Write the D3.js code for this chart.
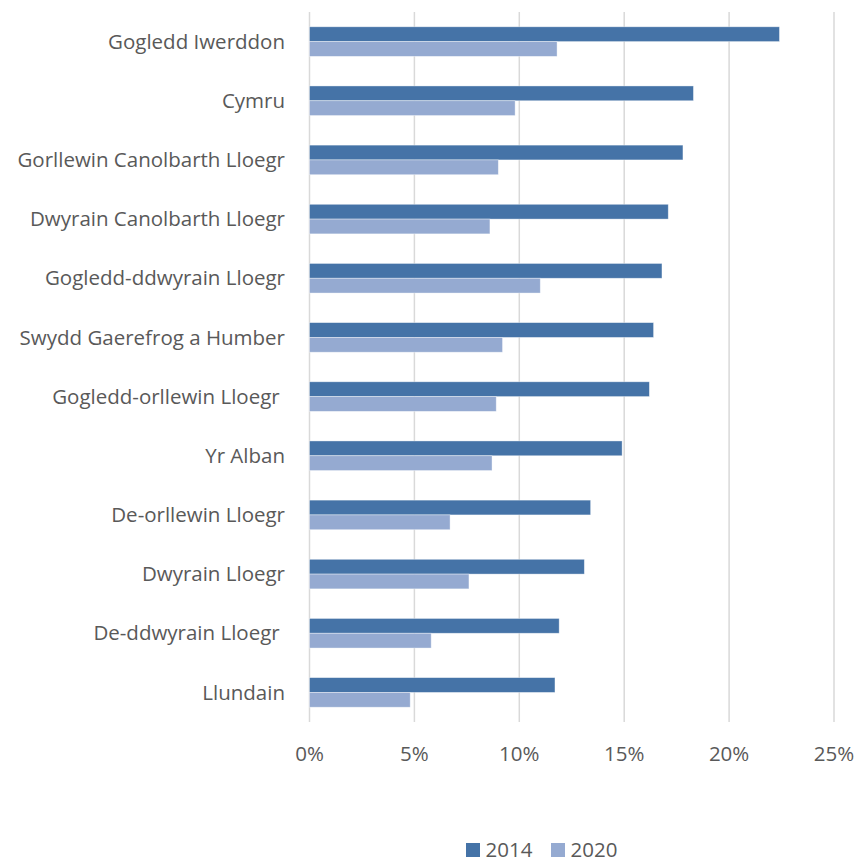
<!DOCTYPE html>
<html>
<head>
<meta charset="utf-8">
<script src="https://cdn.jsdelivr.net/npm/d3@7"></script>
<style>
  body { margin: 0; background: #fff; }
  svg { display: block; font-family: "Open Sans", "Lato", sans-serif; }
  text { white-space: pre; }
</style>
</head>
<body>
<svg id="chart" width="859" height="858"></svg>
<script>
// regions, top to bottom
var regions = [
  "Gogledd Iwerddon", "Cymru", "Gorllewin Canolbarth Lloegr",
  "Dwyrain Canolbarth Lloegr", "Gogledd-ddwyrain Lloegr",
  "Swydd Gaerefrog a Humber", "Gogledd-orllewin Lloegr ", "Yr Alban",
  "De-orllewin Lloegr", "Dwyrain Lloegr", "De-ddwyrain Lloegr ", "Llundain"
];
var years = ["2014", "2020"];
var vals2014 = [22.4, 18.3, 17.8, 17.1, 16.8, 16.4, 16.2, 14.9, 13.4, 13.1, 11.9, 11.7];
var vals2020 = [11.8, 9.8, 9.0, 8.6, 11.0, 9.2, 8.9, 8.7, 6.7, 7.6, 5.8, 4.8];
var xTicks = [0, 5, 10, 15, 20, 25];
var colors = ["#4573a7", "#95aad1"];

var svg = d3.select("#chart");
var fs = 20.5;
// (window.top is read-only, so don't name it "top")
var plotL = 309.5, plotR = 834, plotT = 12, plotB = 722;

var x = d3.scaleLinear().domain([0, 25]).range([plotL, plotR]);
var y = d3.scaleBand().domain(regions).range([plotT, plotB]).paddingInner(0.5).paddingOuter(0.25);
var ySub = d3.scaleBand().domain(years).range([0, y.bandwidth()]);

// gridlines
svg.append("g")
  .selectAll("line")
  .data(xTicks)
  .join("line")
  .attr("x1", d => x(d)).attr("x2", d => x(d))
  .attr("y1", plotT).attr("y2", plotB)
  .attr("stroke", "#d9d9d9")
  .attr("stroke-width", 1.5);

// tick labels
svg.append("g")
  .selectAll("text")
  .data(xTicks)
  .join("text")
  .attr("x", d => x(d))
  .attr("y", 761)
  .attr("text-anchor", "middle")
  .attr("font-size", fs)
  .attr("fill", "#595959")
  .text(d => d + "%");

// bars
var rows = regions.map((r, i) => ({region: r, v: [vals2014[i], vals2020[i]]}));
var g = svg.append("g")
  .selectAll("g")
  .data(rows)
  .join("g")
  .attr("transform", d => "translate(0," + y(d.region) + ")");

g.selectAll("rect")
  .data(d => d.v.map((v, k) => ({year: years[k], v: v, k: k})))
  .join("rect")
  .attr("x", x(0))
  .attr("y", d => ySub(d.year))
  .attr("width", d => x(d.v) - x(0))
  .attr("height", ySub.bandwidth())
  .attr("fill", d => colors[d.k])
  .attr("stroke", "#fff")
  .attr("stroke-opacity", 0.5)
  .attr("stroke-width", 0.75);

// category labels
svg.append("g")
  .selectAll("text")
  .data(regions)
  .join("text")
  .attr("x", 285)
  .attr("y", d => y(d) + y.bandwidth() / 2)
  .attr("dy", "0.35em")
  .attr("text-anchor", "end")
  .attr("font-size", fs)
  .attr("fill", "#595959")
  .text(d => d);

// legend
var legend = svg.append("g").attr("transform", "translate(466,843)");
var items = legend.selectAll("g")
  .data(years)
  .join("g")
  .attr("transform", (d, i) => "translate(" + (i * 85) + ",0)");
items.append("rect")
  .attr("x", 0).attr("y", 0)
  .attr("width", 14).attr("height", 14)
  .attr("fill", (d, i) => colors[i]);
items.append("text")
  .attr("x", 19.5).attr("y", 13.5)
  .attr("font-size", fs)
  .attr("fill", "#595959")
  .text(d => d);
</script>
</body>
</html>
